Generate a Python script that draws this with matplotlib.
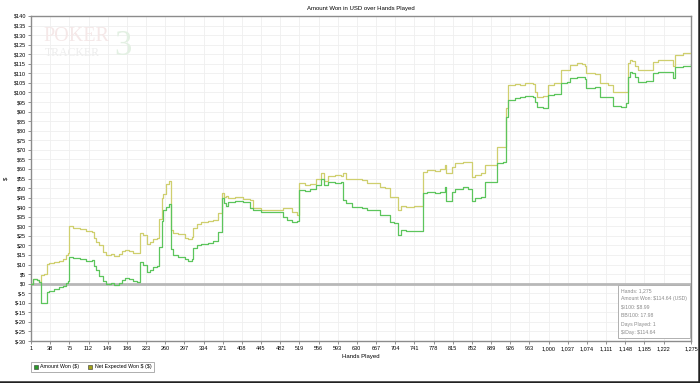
"""
Amount won vs hands played (PokerTracker 3 style graph).
"""

import matplotlib
matplotlib.use("Agg")
import matplotlib.pyplot as plt
from matplotlib.patches import Patch
from matplotlib.lines import Line2D
from matplotlib.ticker import FuncFormatter

hands = [1, 5, 12, 17, 21, 27, 31, 36, 45, 55, 62, 68, 72, 75, 82, 95, 108, 118,
         122, 126, 132, 140, 146, 155, 162, 170, 176, 182, 190, 198, 205, 211,
         218, 224, 230, 236, 244, 249, 253, 256, 262, 267, 271, 276, 285, 298,
         305, 311, 314, 322, 330, 342, 352, 362, 369, 373, 377, 381, 395, 410,
         424, 430, 445, 470, 487, 495, 505, 514, 519, 530, 540, 552, 560, 566,
         574, 588, 600, 604, 610, 620, 640, 650, 668, 675, 684, 694, 702, 710,
         716, 724, 740, 757, 765, 780, 790, 800, 803, 813, 820, 835, 845, 852,
         858, 870, 877, 895, 900, 912, 918, 922, 935, 945, 955, 970, 974, 978,
         990, 999, 1010, 1024, 1035, 1041, 1055, 1064, 1070, 1073, 1090, 1099,
         1115, 1125, 1140, 1150, 1154, 1158, 1162, 1166, 1172, 1188, 1202, 1212,
         1240, 1245, 1260, 1275]
amount_won = [0, 2.5, 2, 1, -10, -10, -4.2, -4, -3, -2, -1, 0.5, 1.5, 14, 13.5,
              13, 12, 12.5, 9, 7, 4, 1.5, 0, 0.5, -0.5, 0.5, 2, 3, 2.5, 1.5, 1,
              11.5, 10, 6, 7, 8.5, 9, 19, 33, 38.5, 40, 41.5, 18, 15, 14, 13, 12,
              13, 18.5, 20, 20.5, 21.5, 22.5, 27, 44.7, 42, 40.5, 42.5, 43, 42.5,
              39.5, 38.5, 37.7, 37.5, 35, 33.5, 32.5, 33, 49, 48.5, 49.5, 51.6,
              54.5, 51.6, 53, 52.5, 53, 43.8, 42, 40, 39.5, 38.5, 38.5, 36, 36,
              32.5, 31.6, 25.5, 28, 27.7, 27.5, 47.3, 48, 47.5, 48, 50.7, 43, 48,
              49.5, 50.5, 49.5, 43, 45, 45.5, 53.3, 53, 63, 63.8, 87.3, 96, 97,
              97.5, 98, 97.5, 95, 92.5, 92, 98.7, 99, 104.8, 105.5, 107.5, 108,
              108.3, 107, 102.5, 103, 97.8, 97.5, 93, 92.5, 94.3, 108.3, 110.5,
              110, 108, 105.6, 105.8, 110, 110.8, 107.4, 113.5, 114, 114.64]
net_expected = [0, 2.5, 2, 1, 4.5, 5, 10.5, 11, 11.5, 12, 13, 15, 16, 30, 29,
                28.5, 27.5, 27, 24, 22, 20, 16.7, 15, 15.5, 14.5, 15.5, 17, 17.5,
                17, 16, 16, 26.5, 25.5, 20.5, 22, 23.5, 24, 34, 45, 47, 52, 53.5,
                28, 26.5, 26, 24, 23.5, 24.5, 29, 31, 32, 33, 33.5, 36.8, 47.3,
                45.5, 46, 45, 45.5, 44.5, 44, 39.5, 38.5, 38.5, 39.5, 39.5, 37.7,
                36, 52.5, 51.8, 52, 54.5, 57.7, 53.5, 56.5, 57, 56.5, 57.7, 55,
                54.5, 54, 52.5, 52.5, 50.5, 50, 45.5, 45.5, 38.5, 40.5, 40.3, 40.5,
                58.6, 59.5, 59, 60, 62, 57.7, 61, 63, 63.8, 63.5, 56, 57, 57.7, 62,
                62, 71.7, 71.7, 91.7, 104, 104.5, 104, 105, 104.5, 100, 97.8, 98,
                104, 105, 111.8, 112, 114.5, 115.3, 114.7, 113.7, 110, 109.5,
                104.8, 104, 100, 100.4, 100.4, 115.3, 117, 116.5, 113.6, 111.8,
                112, 116, 117, 113.6, 119.6, 120.5, 121]

x_ticks = [1, 38, 75, 112, 149, 186, 223, 260, 297, 334, 371, 408, 445, 482,
           519, 556, 593, 630, 667, 704, 741, 778, 815, 852, 889, 926, 963,
           1000, 1037, 1074, 1111, 1148, 1185, 1222, 1275]
y_ticks = list(range(-30, 145, 5))

stats_lines = ["Hands: 1,275", "Amount Won: \\$114.64 (USD)", "\\$/100: \\$8.99",
               "BB/100: 17.98", "Days Played: 1", "\\$/Day: \\$114.64"]

plt.rcParams["font.family"] = ["Liberation Sans", "DejaVu Sans"]

fig = plt.figure(figsize=(7, 3.83), dpi=100)
ax = fig.add_axes([31 / 700, 1 - 341 / 383, 660 / 700, 325 / 383])

# Marca d'agua
fig.text(43 / 700, 1 - 41 / 383, "POKER", fontsize=14.5, family="Liberation Serif",
         color="#f5e8e8", ha="left", va="baseline", zorder=0)
fig.text(45 / 700, 1 - 56 / 383, "TRACKER", fontsize=8.5, family="Liberation Serif",
         color="#ededed", ha="left", va="baseline", zorder=0)
fig.text(114 / 700, 1 - 55 / 383, "3", fontsize=25, family="Liberation Serif",
         color="#e3f0e3", ha="left", va="baseline", zorder=0)
ax.patch.set_alpha(0)

ax.plot(hands, net_expected, drawstyle="steps-post", color="#cfcf6e", lw=0.9, zorder=3)
ax.plot(hands, amount_won, drawstyle="steps-post", color="#5cc55c", lw=0.9, zorder=4)
ax.axhline(0, color="#b8b8b8", lw=2, zorder=2)

ax.set_xlim(1, 1275)
ax.set_ylim(-30, 140)
ax.set_xticks(x_ticks)
ax.set_yticks(y_ticks)
ax.xaxis.set_major_formatter(FuncFormatter(lambda v, p: f"{int(v):,}"))
ax.yaxis.set_major_formatter(FuncFormatter(lambda v, p: f"\\${int(v)}"))
ax.tick_params(labelsize=4, length=2, width=0.5, color="#666666", pad=1.5)
ax.grid(True, color="#efefef", lw=0.6, zorder=1)
for s in ax.spines.values():
    s.set_color("#8c8c8c")
    s.set_linewidth(1.0)

ax.set_title("Amount Won in USD over Hands Played", fontsize=4.3, pad=4)
ax.set_xlabel("Hands Played", fontsize=4.3, labelpad=2)
ax.set_ylabel("\\$", fontsize=4.3, labelpad=4)

# Caixa de estatisticas
ax.text(0.894, 0.163, "\n".join(stats_lines), transform=ax.transAxes,
        fontsize=3.7, color="#8a8a8a", va="top", ha="left", linespacing=1.85,
        zorder=6, bbox=dict(boxstyle="square,pad=0.6", fc="white", ec="#b0b0b0", lw=0.7))

# Legenda
handles = [Patch(fc="#2a9a2a", ec="#333333", lw=0.4, label="Amount Won (\\$)"),
           Patch(fc="#a3a31a", ec="#333333", lw=0.4, label="Net Expected Won \\$ (\\$)")]
leg = fig.legend(handles=handles, loc="lower left", bbox_to_anchor=(31 / 700, 11 / 383),
                 ncol=2, fontsize=3.8, frameon=True, fancybox=False, handlelength=0.8,
                 handleheight=0.8, handletextpad=0.5, columnspacing=1.6,
                 borderpad=0.5, borderaxespad=0)
leg.get_frame().set_edgecolor("#999999")
leg.get_frame().set_linewidth(0.7)

# Borda da janela
fig.add_artist(Line2D([0.998, 0.998], [0, 1], color="#222222", lw=1.8, transform=fig.transFigure))
fig.add_artist(Line2D([0, 1], [0.003, 0.003], color="#222222", lw=1.8, transform=fig.transFigure))

fig.savefig("out.png", dpi=100)
